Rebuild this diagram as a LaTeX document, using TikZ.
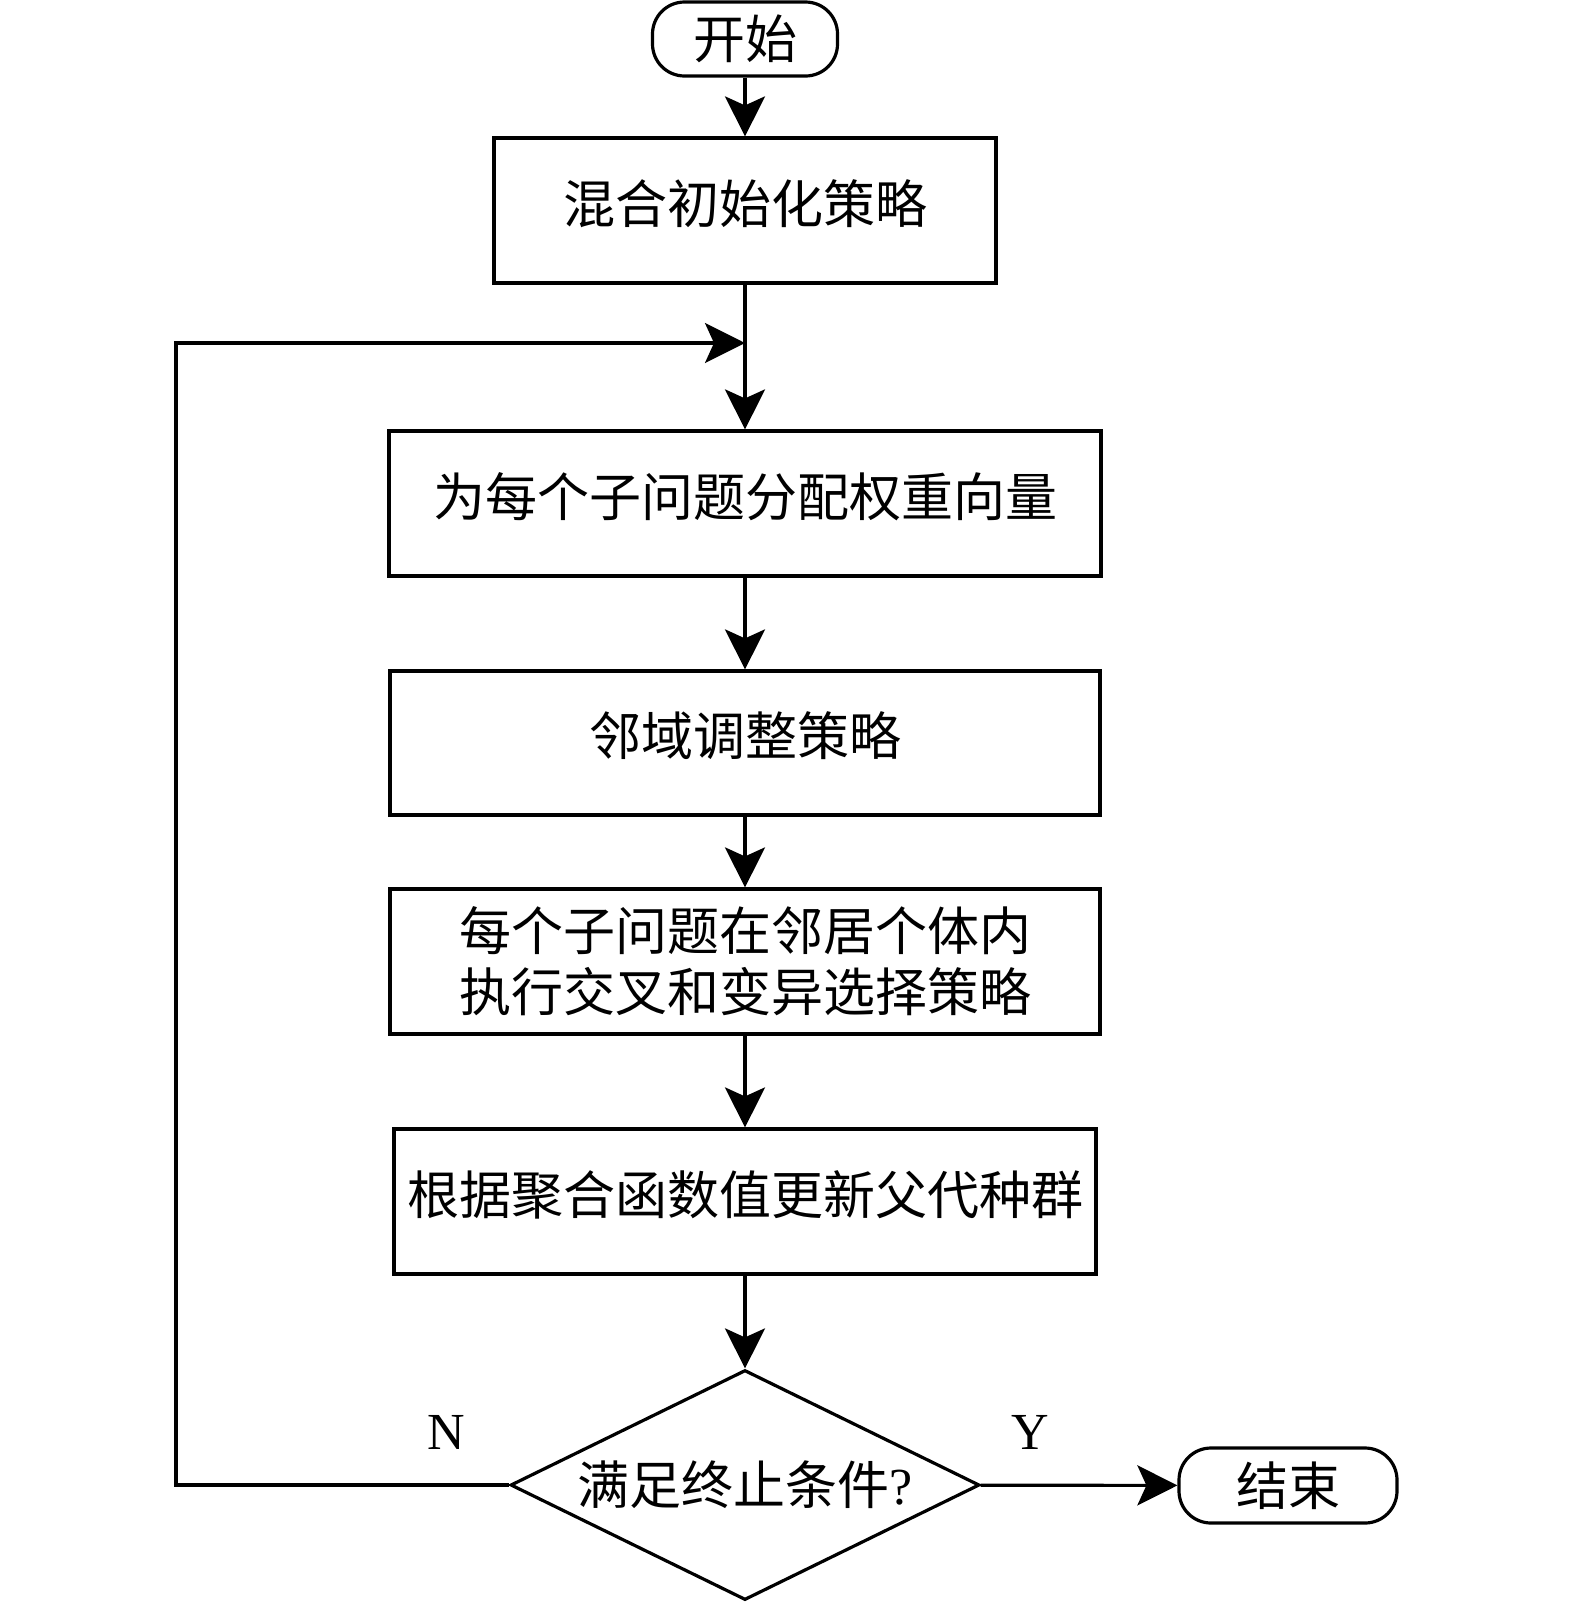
\documentclass[tikz,border=0pt]{standalone}
\usepackage{fontspec}
\setmainfont{Liberation Serif}
\newfontfamily\cjk{Noto Sans CJK SC}
\usetikzlibrary{arrows.meta,shapes.geometric}
\begin{document}
\begin{tikzpicture}[x=1pt,y=-1pt,
  line width=3.2pt,
  every node/.style={font=\fontsize{52}{61}\selectfont\cjk, inner sep=0pt, align=center},
  procbox/.style={draw, rectangle, minimum height=145pt},
  oneline/.style={text height=44pt, text depth=19pt},
  termbox/.style={draw, rectangle, rounded corners=32pt, minimum height=74pt},
  decbox/.style={draw, diamond, aspect=2.04, minimum width=469pt, minimum height=230pt},
  arr/.style={-{Stealth[length=40pt,width=40pt,inset=9pt]}},
  lbl/.style={font=\fontsize{52}{60}\selectfont\rmfamily}]
\useasboundingbox (0,0) rectangle (1575,1604);
\node[termbox, minimum width=185pt] (start) at (745,39) {开始};
\node[procbox, oneline, minimum width=502pt] (b1) at (745,210.5) {混合初始化策略};
\node[procbox, oneline, minimum width=712pt] (b2) at (745,503.5) {为每个子问题分配权重向量};
\node[procbox, oneline, minimum width=710pt, minimum height=144pt] (b3) at (745,743) {邻域调整策略};
\node[procbox, minimum width=710pt] (b4) at (745,961.5) {每个子问题在邻居个体内\\执行交叉和变异选择策略};
\node[procbox, oneline, minimum width=702pt] (b5) at (745,1201.5) {根据聚合函数值更新父代种群};
\node[decbox] (dia) at (745,1485) {满足终止条件{\rmfamily ?}};
\node[termbox, minimum width=218pt, minimum height=75pt] (end) at (1288,1485.5) {结束};
\coordinate (merge) at (745,343);
\coordinate (lx) at (176,343);
\draw[arr] (start) -- (b1);
\draw[arr] (b1) -- (b2);
\draw[arr] (b2) -- (b3);
\draw[arr] (b3) -- (b4);
\draw[arr] (b4) -- (b5);
\draw[arr] (b5) -- (dia);
\draw[arr] (dia) -- (end);
\draw[arr] (dia.west) -| (lx) -- (merge);
\node[lbl] (nlab) at (446,1432) {N};
\node[lbl] (ylab) at (1030,1432) {Y};
\end{tikzpicture}
\end{document}
